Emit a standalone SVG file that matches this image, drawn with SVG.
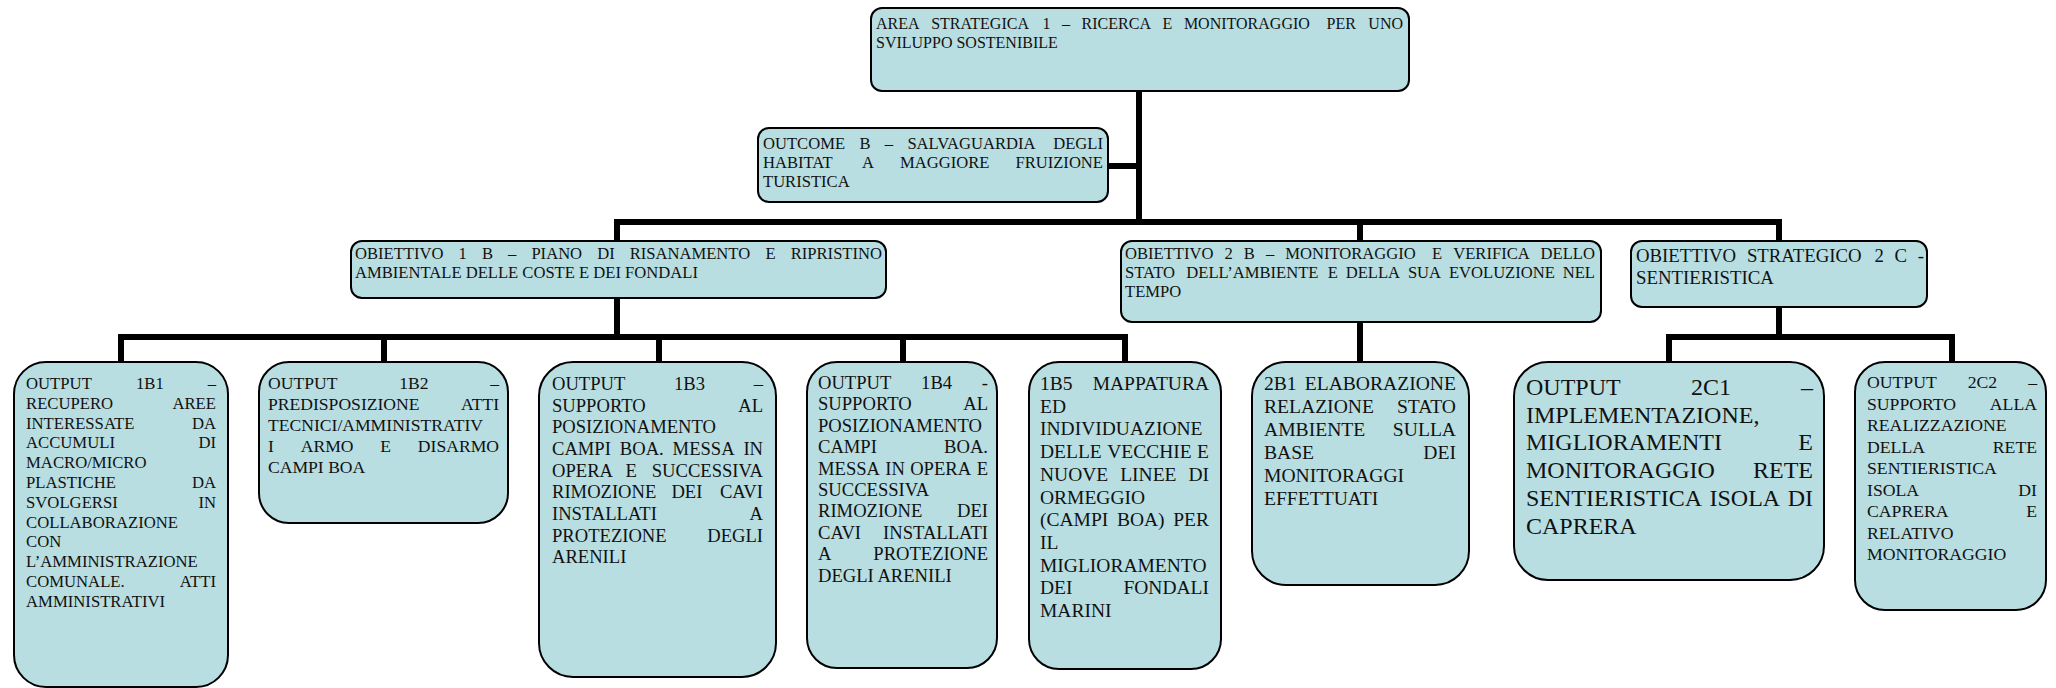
<svg xmlns="http://www.w3.org/2000/svg" width="2056" height="688" viewBox="0 0 2056 688">
<style>
.box{fill:#b8dee2;stroke:#000;stroke-width:2}
.conn{fill:none;stroke:#000;stroke-width:6;stroke-linejoin:miter}
text{font-family:"Liberation Serif","Times New Roman",serif;fill:#111}
.e{text-anchor:end}
.f16{font-size:16px}.f166{font-size:16.6px}.f167{font-size:16.7px}.f176{font-size:17.6px}.f177{font-size:17.7px}.f186{font-size:18.6px}.f188{font-size:18.8px}.f195{font-size:19.5px}.f196{font-size:19.6px}.f24{font-size:24px}
</style>
<rect width="2056" height="688" fill="#fff"/>
<g id="connectors">
<path class="conn" d="M1139,91 V222"/>
<path class="conn" d="M1108,166 H1139"/>
<path class="conn" d="M617,241 V222 H1779 V241"/>
<path class="conn" d="M1360,222 V241"/>
<path class="conn" d="M617,298 V337"/>
<path class="conn" d="M121,362 V337 H1125 V362"/>
<path class="conn" d="M384,337 V362"/>
<path class="conn" d="M659,337 V362"/>
<path class="conn" d="M903,337 V362"/>
<path class="conn" d="M1360,322 V362"/>
<path class="conn" d="M1779,307 V337"/>
<path class="conn" d="M1669,362 V337 H1952 V362"/>
</g>
<g id="area1">
<rect class="box" x="871" y="8" width="538" height="83" rx="11"/>
<text class="f16" y="29"><tspan x="876">AREA</tspan><tspan x="931.2">STRATEGICA</tspan><tspan x="1042.4">1</tspan><tspan x="1062">–</tspan><tspan x="1081.6">RICERCA</tspan><tspan x="1162.5">E</tspan><tspan x="1183.9">MONITORAGGIO</tspan><tspan x="1326.5">PER</tspan><tspan x="1403" class="e">UNO</tspan></text>
<text class="f16" x="876" y="48">SVILUPPO SOSTENIBILE</text>
</g>
<g id="outcomeB">
<rect class="box" x="758" y="128" width="350" height="74" rx="11"/>
<text class="f166" y="149"><tspan x="763">OUTCOME</tspan><tspan x="859.4">B</tspan><tspan x="884.8">–</tspan><tspan x="907.4">SALVAGUARDIA</tspan><tspan x="1103" class="e">DEGLI</tspan></text>
<text class="f166" y="168"><tspan x="763">HABITAT</tspan><tspan x="861.9">A</tspan><tspan x="900">MAGGIORE</tspan><tspan x="1103" class="e">FRUIZIONE</tspan></text>
<text class="f166" x="763" y="187">TURISTICA</text>
</g>
<g id="obiettivo1B">
<rect class="box" x="351" y="241" width="535" height="57" rx="11"/>
<text class="f166" y="259"><tspan x="355">OBIETTIVO</tspan><tspan x="458.6">1</tspan><tspan x="481.9">B</tspan><tspan x="508.1">–</tspan><tspan x="531.4">PIANO</tspan><tspan x="597.2">DI</tspan><tspan x="629.7">RISANAMENTO</tspan><tspan x="765.6">E</tspan><tspan x="882" class="e">RIPRISTINO</tspan></text>
<text class="f166" x="355" y="278">AMBIENTALE DELLE COSTE E DEI FONDALI</text>
</g>
<g id="obiettivo2B">
<rect class="box" x="1121" y="241" width="480" height="81" rx="11"/>
<text class="f166" y="259"><tspan x="1125">OBIETTIVO</tspan><tspan x="1224.5">2</tspan><tspan x="1243.8">B</tspan><tspan x="1265.9">–</tspan><tspan x="1285.2">MONITORAGGIO</tspan><tspan x="1432.1">E</tspan><tspan x="1453.2">VERIFICA</tspan><tspan x="1595" class="e">DELLO</tspan></text>
<text class="f166" y="278"><tspan x="1125">STATO</tspan><tspan x="1186.3">DELL’AMBIENTE</tspan><tspan x="1327.8">E</tspan><tspan x="1345.7">DELLA</tspan><tspan x="1407.9">SUA</tspan><tspan x="1448.9">EVOLUZIONE</tspan><tspan x="1595" class="e">NEL</tspan></text>
<text class="f166" x="1125" y="297">TEMPO</text>
</g>
<g id="obiettivo2C">
<rect class="box" x="1631" y="241" width="296" height="66" rx="11"/>
<text class="f188" y="262"><tspan x="1636">OBIETTIVO</tspan><tspan x="1746.9">STRATEGICO</tspan><tspan x="1874.5">2</tspan><tspan x="1894.6">C</tspan><tspan x="1924" class="e">-</tspan></text>
<text class="f188" x="1636" y="284">SENTIERISTICA</text>
</g>
<g id="output1B1">
<rect class="box" x="14" y="362" width="214" height="325" rx="32"/>
<g class="f167">
<text y="389"><tspan x="26">OUTPUT</tspan><tspan x="136">1B1</tspan><tspan x="216" class="e">–</tspan></text>
<text y="408.8"><tspan x="26">RECUPERO</tspan><tspan x="216" class="e">AREE</tspan></text>
<text y="428.6"><tspan x="26">INTERESSATE</tspan><tspan x="216" class="e">DA</tspan></text>
<text y="448.4"><tspan x="26">ACCUMULI</tspan><tspan x="216" class="e">DI</tspan></text>
<text x="26" y="468.2">MACRO/MICRO</text>
<text y="488"><tspan x="26">PLASTICHE</tspan><tspan x="216" class="e">DA</tspan></text>
<text y="507.8"><tspan x="26">SVOLGERSI</tspan><tspan x="216" class="e">IN</tspan></text>
<text x="26" y="527.6">COLLABORAZIONE</text>
<text x="26" y="547.4">CON</text>
<text x="26" y="567.2">L’AMMINISTRAZIONE</text>
<text y="587"><tspan x="26">COMUNALE.</tspan><tspan x="216" class="e">ATTI</tspan></text>
<text x="26" y="606.8">AMMINISTRATIVI</text>
</g>
</g>
<g id="output1B2">
<rect class="box" x="259" y="362" width="249" height="161" rx="30"/>
<g class="f176">
<text y="389"><tspan x="268">OUTPUT</tspan><tspan x="399.2">1B2</tspan><tspan x="499" class="e">–</tspan></text>
<text y="410"><tspan x="268">PREDISPOSIZIONE</tspan><tspan x="499" class="e">ATTI</tspan></text>
<text x="268" y="431">TECNICI/AMMINISTRATIV</text>
<text y="452"><tspan x="268">I</tspan><tspan x="300.7">ARMO</tspan><tspan x="380.3">E</tspan><tspan x="499" class="e">DISARMO</tspan></text>
<text x="268" y="473">CAMPI BOA</text>
</g>
</g>
<g id="output1B3">
<rect class="box" x="539" y="362" width="237" height="315" rx="34"/>
<g class="f186">
<text y="390"><tspan x="552">OUTPUT</tspan><tspan x="674">1B3</tspan><tspan x="763" class="e">–</tspan></text>
<text y="411.7"><tspan x="552">SUPPORTO</tspan><tspan x="763" class="e">AL</tspan></text>
<text x="552" y="433.3">POSIZIONAMENTO</text>
<text y="455"><tspan x="552">CAMPI</tspan><tspan x="619.8">BOA.</tspan><tspan x="672.6">MESSA</tspan><tspan x="763" class="e">IN</tspan></text>
<text y="476.7"><tspan x="552">OPERA</tspan><tspan x="625.5">E</tspan><tspan x="763" class="e">SUCCESSIVA</tspan></text>
<text y="498.3"><tspan x="552">RIMOZIONE</tspan><tspan x="671.4">DEI</tspan><tspan x="763" class="e">CAVI</tspan></text>
<text y="520"><tspan x="552">INSTALLATI</tspan><tspan x="763" class="e">A</tspan></text>
<text y="541.7"><tspan x="552">PROTEZIONE</tspan><tspan x="763" class="e">DEGLI</tspan></text>
<text x="552" y="563.3">ARENILI</text>
</g>
</g>
<g id="output1B4">
<rect class="box" x="807" y="362" width="190" height="306" rx="30"/>
<g class="f186">
<text y="389"><tspan x="818">OUTPUT</tspan><tspan x="921.1">1B4</tspan><tspan x="988" class="e">-</tspan></text>
<text y="410.4"><tspan x="818">SUPPORTO</tspan><tspan x="988" class="e">AL</tspan></text>
<text x="818" y="431.8">POSIZIONAMENTO</text>
<text y="453.2"><tspan x="818">CAMPI</tspan><tspan x="988" class="e">BOA.</tspan></text>
<text y="474.6"><tspan x="818">MESSA</tspan><tspan x="885.3">IN</tspan><tspan x="910.2">OPERA</tspan><tspan x="988" class="e">E</tspan></text>
<text x="818" y="496">SUCCESSIVA</text>
<text y="517.4"><tspan x="818">RIMOZIONE</tspan><tspan x="988" class="e">DEI</tspan></text>
<text y="538.8"><tspan x="818">CAVI</tspan><tspan x="988" class="e">INSTALLATI</tspan></text>
<text y="560.2"><tspan x="818">A</tspan><tspan x="988" class="e">PROTEZIONE</tspan></text>
<text x="818" y="581.6">DEGLI ARENILI</text>
</g>
</g>
<g id="output1B5">
<rect class="box" x="1029" y="362" width="192" height="307" rx="30"/>
<g class="f195">
<text y="390"><tspan x="1040">1B5</tspan><tspan x="1209" class="e">MAPPATURA</tspan></text>
<text x="1040" y="412.7">ED</text>
<text x="1040" y="435.4">INDIVIDUAZIONE</text>
<text y="458.1"><tspan x="1040">DELLE</tspan><tspan x="1107.2">VECCHIE</tspan><tspan x="1209" class="e">E</tspan></text>
<text y="480.8"><tspan x="1040">NUOVE</tspan><tspan x="1120.2">LINEE</tspan><tspan x="1209" class="e">DI</tspan></text>
<text x="1040" y="503.5">ORMEGGIO</text>
<text y="526.2"><tspan x="1040">(CAMPI</tspan><tspan x="1116.9">BOA)</tspan><tspan x="1209" class="e">PER</tspan></text>
<text x="1040" y="548.9">IL</text>
<text x="1040" y="571.6">MIGLIORAMENTO</text>
<text y="594.3"><tspan x="1040">DEI</tspan><tspan x="1209" class="e">FONDALI</tspan></text>
<text x="1040" y="617">MARINI</text>
</g>
</g>
<g id="output2B1">
<rect class="box" x="1252" y="362" width="217" height="223" rx="34"/>
<g class="f196">
<text y="390"><tspan x="1264">2B1</tspan><tspan x="1456" class="e">ELABORAZIONE</tspan></text>
<text y="413"><tspan x="1264">RELAZIONE</tspan><tspan x="1456" class="e">STATO</tspan></text>
<text y="436"><tspan x="1264">AMBIENTE</tspan><tspan x="1456" class="e">SULLA</tspan></text>
<text y="459"><tspan x="1264">BASE</tspan><tspan x="1456" class="e">DEI</tspan></text>
<text x="1264" y="482">MONITORAGGI</text>
<text x="1264" y="505">EFFETTUATI</text>
</g>
</g>
<g id="output2C1">
<rect class="box" x="1514" y="362" width="310" height="218" rx="34"/>
<g class="f24">
<text y="395"><tspan x="1526">OUTPUT</tspan><tspan x="1690.9">2C1</tspan><tspan x="1813" class="e">–</tspan></text>
<text x="1526" y="422.7">IMPLEMENTAZIONE,</text>
<text y="450.4"><tspan x="1526">MIGLIORAMENTI</tspan><tspan x="1813" class="e">E</tspan></text>
<text y="478.1"><tspan x="1526">MONITORAGGIO</tspan><tspan x="1813" class="e">RETE</tspan></text>
<text y="505.8"><tspan x="1526">SENTIERISTICA</tspan><tspan x="1709.5">ISOLA</tspan><tspan x="1813" class="e">DI</tspan></text>
<text x="1526" y="533.5">CAPRERA</text>
</g>
</g>
<g id="output2C2">
<rect class="box" x="1855" y="362" width="191" height="248" rx="30"/>
<g class="f177">
<text y="388"><tspan x="1867">OUTPUT</tspan><tspan x="1967.7">2C2</tspan><tspan x="2037" class="e">–</tspan></text>
<text y="409.5"><tspan x="1867">SUPPORTO</tspan><tspan x="2037" class="e">ALLA</tspan></text>
<text x="1867" y="431">REALIZZAZIONE</text>
<text y="452.5"><tspan x="1867">DELLA</tspan><tspan x="2037" class="e">RETE</tspan></text>
<text x="1867" y="474">SENTIERISTICA</text>
<text y="495.5"><tspan x="1867">ISOLA</tspan><tspan x="2037" class="e">DI</tspan></text>
<text y="517"><tspan x="1867">CAPRERA</tspan><tspan x="2037" class="e">E</tspan></text>
<text x="1867" y="538.5">RELATIVO</text>
<text x="1867" y="560">MONITORAGGIO</text>
</g>
</g>
</svg>
